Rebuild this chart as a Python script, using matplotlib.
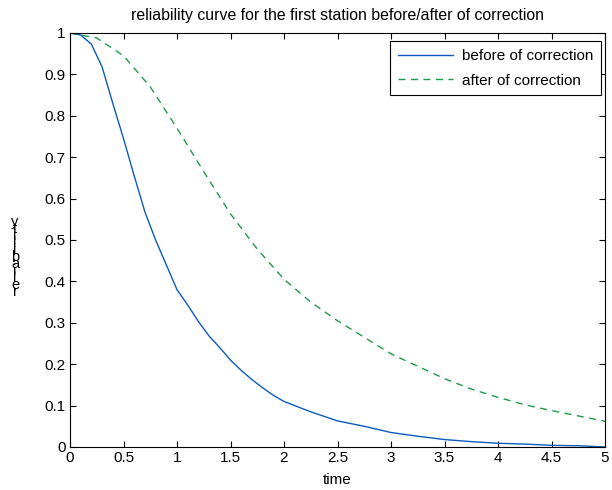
import matplotlib
matplotlib.use("Agg")
import matplotlib.pyplot as plt

plt.rcParams['font.family'] = ['Liberation Sans', 'DejaVu Sans']

t_before = [0, 0.1, 0.2, 0.3, 0.4, 0.5, 0.6, 0.7, 0.8, 0.9, 1.0, 1.1, 1.2, 1.3, 1.4, 1.5,
            1.6, 1.7, 1.8, 1.9, 2.0, 2.25, 2.5, 2.75, 3.0, 3.25, 3.5, 3.75, 4.0, 4.25, 4.5, 4.75, 5.0]
before = [1.0, 0.995, 0.973, 0.918, 0.83, 0.745, 0.655, 0.568, 0.5, 0.44, 0.38, 0.343, 0.303,
          0.268, 0.24, 0.21, 0.185, 0.163, 0.143, 0.125, 0.11, 0.085, 0.063, 0.05, 0.035,
          0.026, 0.018, 0.013, 0.009, 0.007, 0.004, 0.003, 0.0]

t_after = [0, 0.25, 0.5, 0.75, 1.0, 1.25, 1.5, 1.75, 2.0, 2.25, 2.5, 2.75, 3.0, 3.25,
           3.5, 3.75, 4.0, 4.25, 4.5, 4.75, 5.0]
after = [1.0, 0.988, 0.945, 0.87, 0.77, 0.665, 0.563, 0.478, 0.405, 0.35, 0.305, 0.265,
         0.225, 0.195, 0.165, 0.14, 0.12, 0.102, 0.088, 0.075, 0.062]

xticks = [0, 0.5, 1, 1.5, 2, 2.5, 3, 3.5, 4, 4.5, 5]
yticks = [0, 0.1, 0.2, 0.3, 0.4, 0.5, 0.6, 0.7, 0.8, 0.9, 1]

fig = plt.figure(figsize=(6.12, 4.9), dpi=100)
ax = fig.add_axes([70/612, 1-447/490, 535/612, 414/490])
ax.plot(t_before, before, color='#0b5bbf', lw=1.0, label='before of correction')
ax.plot(t_after, after, color='#1f9a4a', lw=1.0, ls=(0, (5, 4)), label='after of correction')
ax.set_xlim(0, 5)
ax.set_ylim(0, 1)
ax.set_xticks(xticks)
ax.set_xticklabels([f"{v:g}" for v in xticks])
ax.set_yticks(yticks)
ax.set_yticklabels([f"{v:g}" for v in yticks])
ax.tick_params(direction='in', top=True, right=True, labelsize=11, length=4, width=0.8, pad=3)
for s in ax.spines.values():
    s.set_linewidth(0.8)
ax.set_title('reliability curve for the first station before/after of correction', fontsize=11.4, pad=9)
ax.set_xlabel('time', fontsize=11, labelpad=6)
fig.text(15/612, 1-257/490, "y\nt\ni\nl\ni\nb\na\ni\nl\ne\nr", fontsize=10.5, ha='center', va='center',
         linespacing=0.36)
leg = ax.legend(loc='upper right', fontsize=11, fancybox=False, framealpha=1, edgecolor='black',
                bbox_to_anchor=(0.993, 0.98), borderaxespad=0.0, handlelength=3.6, handletextpad=0.6,
                borderpad=0.5, labelspacing=0.7)
leg.get_frame().set_linewidth(0.8)
fig.savefig('out.png', dpi=100)
